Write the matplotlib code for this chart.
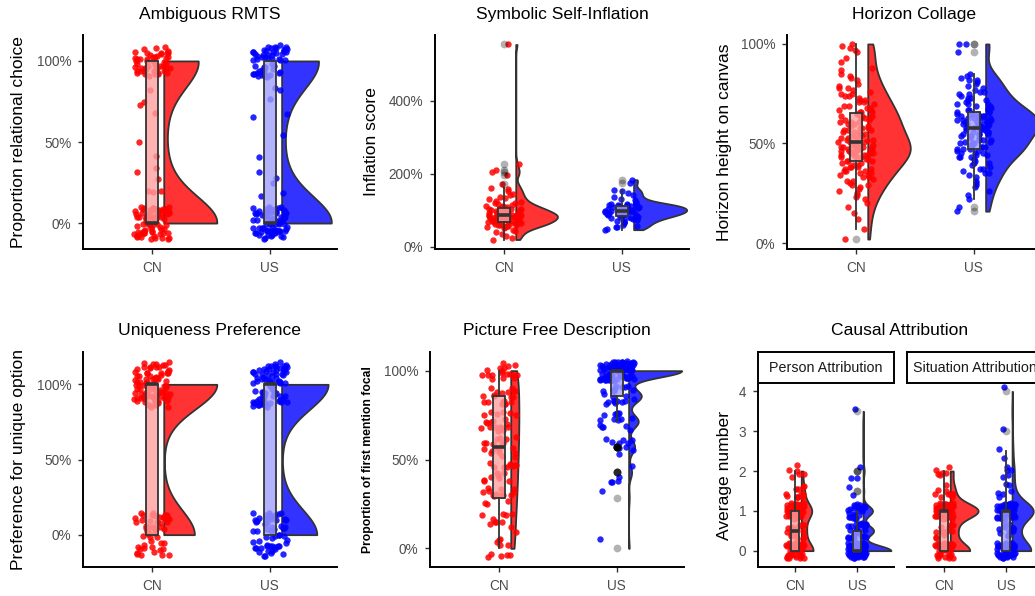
import numpy as np
import matplotlib
matplotlib.use("Agg")
import matplotlib.pyplot as plt
from matplotlib.ticker import PercentFormatter

plt.rcParams['font.family'] = ['Liberation Sans', 'DejaVu Sans']

W, H = 1035, 596
DARK = '#333333'
groups = ['CN', 'US']
point_col = ['#FF0000', '#0000FF']
violin_col = ['#FF3333', '#3333FF']
box_col = [(1, 0.625, 0.625, 0.8), (0.625, 0.625, 1, 0.8)]

# --- data ---
# Ambiguous RMTS: proportion relational choice (level, count per group)
rmts_levels = [0, 0.25, 0.5, 0.75, 1]
rmts_cn_counts = [80, 6, 2, 4, 52]
rmts_us_counts = [76, 5, 2, 5, 56]

# Symbolic self-inflation, in percent
inflation_cn = [20, 25, 30, 36, 41, 44, 47, 51, 53, 54, 55, 57, 58, 59,
                60, 61, 62, 63, 64, 65, 66, 66, 67, 68, 69, 69,
                70, 71, 72, 73, 74, 75, 76, 77, 78, 79,
                80, 81, 81, 82, 83, 83, 84, 84, 85, 85, 86, 86, 87, 87, 88, 89,
                90, 91, 92, 93, 94, 95, 96, 97, 98, 99,
                100, 101, 102, 103, 104, 105, 106, 107, 108, 109,
                111, 113, 115, 117, 119, 121, 124, 127,
                131, 135, 138, 142, 146, 152, 158, 160,
                172, 198, 205, 212, 228, 555]
inflation_us = [47, 50, 53, 55, 58, 61, 64, 67, 69, 70, 72, 74, 76, 78,
                80, 81, 82, 83, 84, 85, 86, 87, 88, 89,
                90, 91, 92, 93, 94, 95, 95, 96, 97, 97, 98, 99,
                100, 101, 102, 102, 103, 104, 105, 106, 106, 107, 108, 109,
                110, 111, 112, 113, 113, 114, 115, 116, 116, 117, 118,
                121, 124, 128, 132, 137, 142, 148, 153, 157, 176, 184]

# Horizon collage: horizon height on canvas, in percent
horizon_cn = [2, 7, 12, 15, 18, 20, 22, 23, 24, 25, 26, 27, 28, 29, 29,
              30, 31, 31, 32, 33, 33, 34, 34, 35, 35, 36, 36, 36, 37, 37, 38, 38, 38, 39, 39,
              40, 40, 41, 41, 41, 42, 42, 43, 43, 43, 44, 44, 44, 44, 45, 45, 45, 45,
              46, 46, 46, 46, 46, 47, 47, 47, 47, 47, 48, 48, 48, 48, 49, 49, 49,
              50, 50, 50, 51, 51, 51, 52, 52, 52, 53, 53, 53, 54, 54, 55, 55, 55,
              56, 56, 56, 57, 57, 57, 58, 58, 58, 59, 59,
              60, 60, 61, 61, 61, 62, 62, 63, 63, 63, 64, 64, 64, 65, 65,
              66, 66, 66, 67, 67, 68, 68, 69, 69,
              70, 71, 71, 72, 72, 73, 74, 74, 75, 75, 76, 77, 78, 78, 79,
              80, 82, 83, 84, 85, 87, 88, 91, 93, 96, 97, 98, 99, 100]
horizon_us = [16, 18, 22, 24, 26, 28, 29, 30, 31, 33, 34, 35, 35, 36, 37, 37, 38, 39,
              40, 40, 41, 42, 43, 43, 43, 44, 44, 45, 45, 45, 46, 46, 47, 47, 47,
              48, 48, 48, 49, 49, 49, 49,
              50, 50, 50, 51, 51, 52, 52, 52, 53, 53, 54, 54, 54, 55, 55, 55, 55,
              56, 56, 56, 56, 57, 57, 57, 58, 58, 58, 58, 59, 59, 59, 59,
              60, 60, 60, 60, 61, 61, 61, 61, 62, 62, 62, 62, 63, 63, 63, 63,
              64, 64, 64, 64, 65, 65, 65, 65, 66, 66, 66, 67, 67, 67, 68, 68, 69, 69,
              70, 70, 70, 71, 72, 72, 73, 73, 74, 75, 75, 76, 76, 77, 78, 79,
              80, 81, 82, 82, 83, 84, 85, 96, 100, 100]

# Uniqueness preference: chose unique option (0/1)
unique_levels = [0, 1]
unique_cn_counts = [52, 90]
unique_us_counts = [62, 82]

# Picture free description: proportion of first mentions that are focal (k/7)
picture_levels = [0, 1/7, 2/7, 3/7, 4/7, 5/7, 6/7, 1]
picture_cn_counts = [10, 11, 15, 17, 19, 20, 20, 18]
picture_us_counts = [1, 0, 1, 5, 10, 16, 21, 88]

# Causal attribution: average number of attributions
causal_levels = [0, 0.5, 1, 1.5, 2, 2.5, 3, 3.5, 4]
person_cn_counts = [48, 18, 42, 12, 6, 0, 0, 0, 0]
person_us_counts = [77, 29, 26, 2, 3, 0, 0, 1, 0]
situation_cn_counts = [42, 14, 60, 10, 6, 0, 0, 0, 0]
situation_us_counts = [48, 14, 54, 6, 5, 2, 1, 0, 1]


def expand(levels, counts):
    return np.repeat(np.asarray(levels, float), counts)


def nrd0(x):
    hi = x.std(ddof=1)
    q75, q25 = np.percentile(x, [75, 25])
    lo = min(hi, (q75 - q25) / 1.34)
    if lo == 0:
        lo = hi or abs(x[0]) or 1
    return 0.9 * lo * len(x) ** -0.2


def kde(x):
    bw = nrd0(x)
    grid = np.linspace(x.min(), x.max(), 512)
    d = np.exp(-0.5 * ((grid[:, None] - x[None, :]) / bw) ** 2).sum(1)
    return grid, d / (len(x) * bw * np.sqrt(2 * np.pi))


def spread(n, seed):
    # deterministic scatter in [-1, 1] for jittering positions
    t = np.sin(np.arange(n) * 12.9898 + seed * 78.233) * 43758.5453
    return (t - np.floor(t)) * 2 - 1


def raincloud(ax, data, jit_h, box_w=0.1):
    dens = [kde(v) for v in data]
    dmax = max(d.max() for _, d in dens)
    for i, (vals, (grid, d)) in enumerate(zip(data, dens)):
        pos = i + 1
        base = pos + 0.1
        ax.fill_betweenx(grid, base, base + d / dmax * 0.45, facecolor=violin_col[i],
                         edgecolor=DARK, linewidth=1.3, zorder=1)
        xo = spread(len(vals), 1 + i) * 0.15
        yo = spread(len(vals), 5 + i) * jit_h
        ax.scatter(pos + xo, vals + yo, s=21, color=point_col[i], alpha=0.85,
                   linewidths=0, zorder=2)
        ax.boxplot([vals], positions=[pos], widths=box_w, patch_artist=True,
                   showcaps=False, manage_ticks=False, zorder=3,
                   boxprops=dict(facecolor=box_col[i], edgecolor=DARK, linewidth=1.3),
                   medianprops=dict(color=DARK, linewidth=2.6),
                   whiskerprops=dict(color=DARK, linewidth=1.3),
                   flierprops=dict(marker='o', markerfacecolor='black',
                                   markeredgecolor='none', alpha=0.3, markersize=5.6))


def add_ax(l, t, r, b):
    return fig.add_axes([l / W, 1 - b / H, (r - l) / W, (b - t) / H])


def style(ax, ylim, yticks, xlim=(0.415, 2.57), pct=True, left=True):
    for s in ['top', 'right']:
        ax.spines[s].set_visible(False)
    for s in ['left', 'bottom']:
        ax.spines[s].set_linewidth(1.4)
    ax.set_xlim(*xlim)
    ax.set_ylim(*ylim)
    ax.set_xticks([1, 2], groups)
    ax.set_yticks(yticks)
    if pct:
        ax.yaxis.set_major_formatter(PercentFormatter(xmax=1, decimals=0))
    ax.tick_params(length=3.5, width=1.0, color=DARK, labelsize=9.8,
                   labelcolor='#4D4D4D', pad=5)
    if not left:
        ax.spines['left'].set_visible(False)
        ax.tick_params(axis='y', left=False, labelleft=False)


def title(x, y, s):
    fig.text(x / W, 1 - y / H, s, ha='center', va='baseline', fontsize=12.6)


def ylabel(x, y, s, **kw):
    kw.setdefault('fontsize', 12.6)
    fig.text(x / W, 1 - y / H, s, ha='center', va='center', rotation=90, **kw)


fig = plt.figure(figsize=(W / 100, H / 100), dpi=100)

# Ambiguous RMTS
ax = add_ax(83, 35, 337, 249)
raincloud(ax, [expand(rmts_levels, rmts_cn_counts), expand(rmts_levels, rmts_us_counts)], 0.1)
style(ax, (-0.16, 1.16), [0, 0.5, 1])
title(210, 19, 'Ambiguous RMTS')
ylabel(19, 142, 'Proportion relational choice')

# Symbolic Self-Inflation
ax = add_ax(435, 35, 689, 249)
raincloud(ax, [np.array(inflation_cn) / 100, np.array(inflation_us) / 100], 0)
style(ax, (-0.06, 5.81), [0, 2, 4])
title(562, 19, 'Symbolic Self-Inflation')
ylabel(372, 142, 'Inflation score')

# Horizon Collage
ax = add_ax(787, 35, 1041, 249)
raincloud(ax, [np.array(horizon_cn) / 100, np.array(horizon_us) / 100], 0)
style(ax, (-0.03, 1.045), [0, 0.5, 1])
title(914, 19, 'Horizon Collage')
ylabel(724, 142, 'Horizon height on canvas')

# Uniqueness Preference
ax = add_ax(83, 352, 337, 567)
raincloud(ax, [expand(unique_levels, unique_cn_counts), expand(unique_levels, unique_us_counts)], 0.15)
style(ax, (-0.215, 1.215), [0, 0.5, 1])
title(210, 335, 'Uniqueness Preference')
ylabel(19, 459, 'Preference for unique option')

# Picture Free Description
ax = add_ax(430, 352, 684, 567)
raincloud(ax, [expand(picture_levels, picture_cn_counts), expand(picture_levels, picture_us_counts)], 0.057)
style(ax, (-0.105, 1.105), [0, 0.5, 1])
title(557, 335, 'Picture Free Description')
ylabel(368, 460, 'Proportion of first mention focal', fontsize=8.7, fontweight='bold')

# Causal Attribution (two facets)
facets = [('Person Attribution', person_cn_counts, person_us_counts, 758),
          ('Situation Attribution', situation_cn_counts, situation_us_counts, 907)]
for k, (name, cn_c, us_c, x0) in enumerate(facets):
    ax = add_ax(x0, 383, x0 + 136, 567)
    raincloud(ax, [expand(causal_levels, cn_c), expand(causal_levels, us_c)], 0.2, box_w=0.12)
    style(ax, (-0.41, 4.21), [0, 1, 2, 3, 4], xlim=(0.4, 2.6), pct=False, left=(k == 0))
    sax = add_ax(x0, 352, x0 + 136, 383)
    sax.set_xticks([])
    sax.set_yticks([])
    for sp in sax.spines.values():
        sp.set_linewidth(1.4)
    sax.text(0.5, 0.5, name, ha='center', va='center', fontsize=10.3, color='#1A1A1A',
             transform=sax.transAxes)
title(900, 335, 'Causal Attribution')
ylabel(724, 475, 'Average number')

fig.savefig('out.png', dpi=100)
